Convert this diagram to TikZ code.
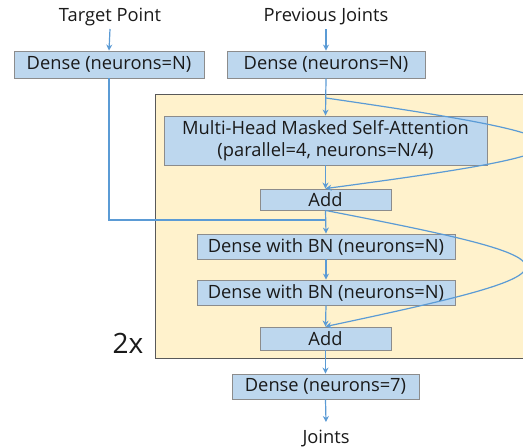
\documentclass[tikz,border=0pt]{standalone}
\usepackage{fontspec}
\setmainfont{Open Sans}
\usetikzlibrary{arrows.meta}
\definecolor{boxfill}{HTML}{BDD7EE}
\definecolor{boxdraw}{HTML}{8C8C8C}
\definecolor{loopfill}{HTML}{FFF2CC}
\definecolor{loopdraw}{HTML}{595959}
\definecolor{arr}{HTML}{5B9BD5}
\definecolor{txt}{HTML}{1A1A1A}
\tikzset{
  blk/.style={draw=boxdraw, fill=boxfill, line width=0.9pt, inner sep=0pt, align=center, text=txt, font=\fontsize{18.3}{22}\selectfont},
  lbl/.style={inner sep=0pt, text=txt, font=\fontsize{18.3}{22}\selectfont},
  conn/.style={draw=arr, line width=1.2pt},
  arw/.style={conn, -{Stealth[length=6pt,width=6pt]}},
}
\begin{document}
\begin{tikzpicture}[x=1pt,y=-1pt]
\useasboundingbox (0,0) rectangle (523,447);
\fill[white] (0,0) rectangle (523,447);
% loop region
\draw[draw=loopdraw, fill=loopfill, line width=1pt] (155,94) rectangle (560,358);
\node[inner sep=0pt, text=txt, font=\fontsize{28}{32}\selectfont] (rep) at (128,343) {2x};
% inputs
\node[lbl] (tp) at (110,16.5) {Target Point};
\node[lbl] (pj) at (326,16.5) {Previous Joints};
\node[blk, minimum width=190pt, minimum height=27pt] (dl) at (109,64.5) {Dense (neurons=N)};
\node[blk, minimum width=198pt, minimum height=27pt] (dr) at (326,64.5) {Dense (neurons=N)};
% inner blocks
\node[blk, minimum width=323pt, minimum height=49pt] (mha) at (325.5,140.5) {Multi-Head Masked Self-Attention\\(parallel=4, neurons=N/4)};
\node[blk, minimum width=131pt, minimum height=21pt] (add1) at (325.5,199.5) {Add};
\node[blk, minimum width=258pt, minimum height=25pt] (bn1) at (326,246.5) {Dense with BN (neurons=N)};
\node[blk, minimum width=258pt, minimum height=25pt] (bn2) at (326,292.5) {Dense with BN (neurons=N)};
\node[blk, minimum width=131pt, minimum height=23pt] (add2) at (325.5,338.5) {Add};
\node[blk, minimum width=187pt, minimum height=25pt] (d7) at (325.5,386.5) {Dense (neurons=7)};
\node[lbl] (out) at (326,438.5) {Joints};
% helper coordinates
\coordinate (s1) at (326,98);
\coordinate (j) at (326,220);
\coordinate (o) at (326,422);
% connectors
\draw[arw] (tp.south |- 0,29) -- (dl.north);
\draw[arw] (pj.south |- 0,29) -- (dr.north);
\draw[arw] (dr.south) -- (mha.north);
\draw[arw] (mha.south) -- (add1.north);
\draw[arw] (add1.south) -- (bn1.north);
\draw[conn] (dl.south) |- (j);
\draw[arw] (bn1.south) -- (bn2.north);
\draw[arw] (bn2.south) -- (add2.north);
\draw[arw] (add2.south) -- (d7.north);
\draw[arw] (d7.south) -- (o);
% skip connections
\draw[arw] (s1) .. controls (615,140) and (615,150) .. (add1.north);
\draw[arw] (add1.south) .. controls (592,262) and (592,270) .. (add2.north);
\end{tikzpicture}
\end{document}
